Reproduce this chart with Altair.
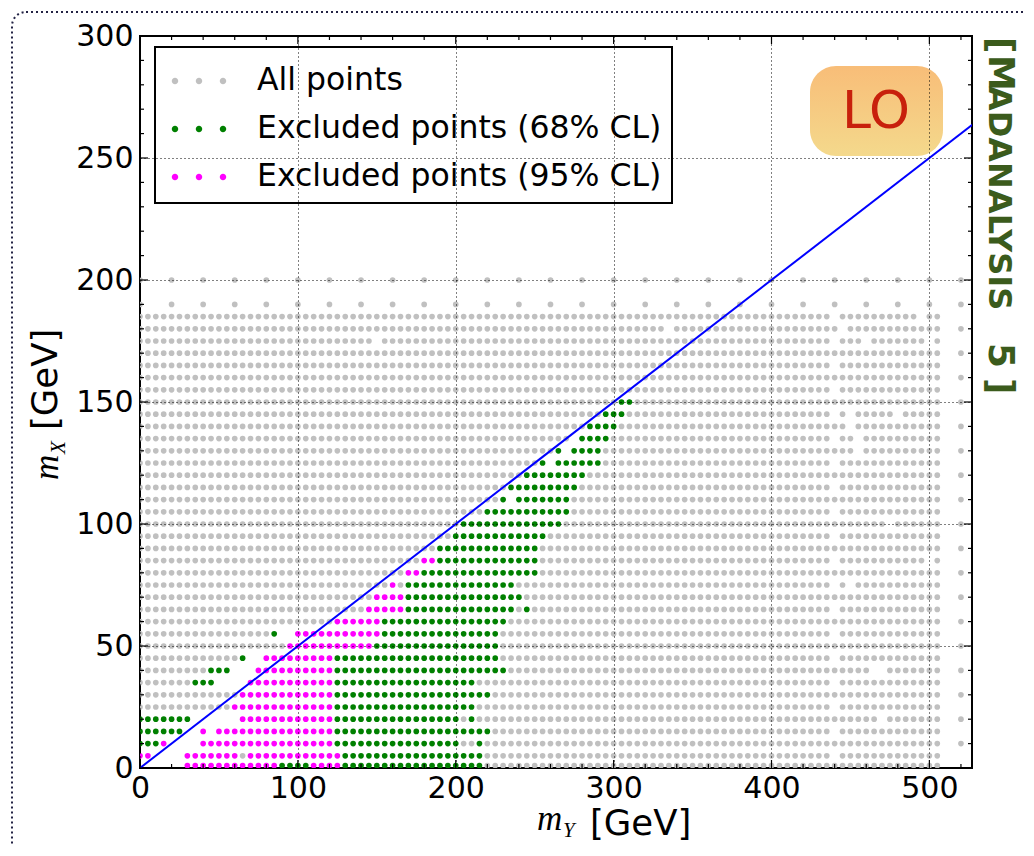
import altair as alt
import pandas as pd

# ---------------- data: parameter scan (GeV) ----------------
X_DENSE = list(range(0, 506, 5))          # m_Y values of the dense scan
Y_DENSE = [1] + list(range(5, 186, 5))    # m_X values of the dense scan
X_COARSE = list(range(0, 521, 20))        # coarse scan columns (top rows)
Y_COARSE = [190, 200]                     # coarse scan rows
X_EDGE = [520]                            # last coarse column
Y_EDGE = list(range(10, 181, 10))

# dense points that are absent from the scan (grey holes)
HOLES_440 = [5, 15, 25, 35, 45, 55, 65, 75, 85, 95, 105, 115, 125, 135, 145, 155, 165, 175, 185]
HOLES = [(150, 175), (335, 180), (445, 180), (495, 185), (460, 175), (500, 175),
         (450, 145), (480, 145), (450, 140), (455, 135), (455, 130), (475, 100),
         (500, 85), (450, 75), (465, 40), (470, 40), (470, 20)]

# excluded points, row by row: (m_X, m_Y from, m_Y to, class)
# g = excluded 68% CL, m = excluded 95% CL, n = no point
SEGMENTS = [
    (150, 305, 310, "g"),
    (145, 295, 305, "g"),
    (140, 285, 300, "g"),
    (135, 275, 275, "n"), (135, 280, 295, "g"),
    (130, 265, 265, "g"), (130, 270, 270, "n"), (130, 275, 290, "g"),
    (125, 255, 255, "g"), (125, 260, 260, "n"), (125, 265, 290, "g"),
    (120, 245, 280, "g"),
    (115, 235, 275, "g"),
    (110, 230, 230, "g"), (110, 235, 235, "n"), (110, 240, 270, "g"),
    (105, 220, 270, "g"),
    (100, 205, 265, "g"),
    (95, 200, 255, "g"),
    (90, 190, 250, "g"),
    (85, 180, 185, "m"), (85, 190, 250, "g"),
    (80, 170, 175, "m"), (80, 180, 250, "g"),
    (75, 160, 160, "m"), (75, 170, 235, "g"),
    (70, 150, 165, "m"), (70, 170, 240, "g"),
    (65, 145, 165, "m"), (65, 170, 235, "g"), (65, 245, 245, "g"),
    (60, 125, 150, "m"), (60, 155, 230, "g"),
    (55, 85, 85, "g"), (55, 90, 95, "n"), (55, 100, 150, "m"), (55, 155, 225, "g"),
    (50, 95, 145, "m"), (50, 150, 225, "g"),
    (45, 65, 65, "g"), (45, 70, 75, "n"), (45, 80, 120, "m"), (45, 125, 225, "g"),
    (40, 45, 55, "g"), (40, 60, 70, "n"), (40, 75, 120, "m"), (40, 125, 230, "g"),
    (35, 35, 45, "g"), (35, 50, 65, "n"), (35, 70, 120, "m"), (35, 125, 210, "g"),
    (30, 65, 120, "m"), (30, 125, 220, "g"),
    (25, 60, 120, "m"), (25, 125, 210, "g"),
    (20, 0, 30, "g"), (20, 35, 60, "n"), (20, 65, 120, "m"), (20, 125, 200, "g"), (20, 210, 210, "g"),
    (15, 0, 25, "g"), (15, 30, 35, "n"), (15, 40, 40, "m"), (15, 45, 45, "n"), (15, 50, 120, "m"), (15, 125, 220, "g"),
    (10, 0, 10, "g"), (10, 15, 15, "m"), (10, 20, 35, "n"), (10, 40, 120, "m"), (10, 125, 200, "g"), (10, 215, 215, "g"),
    (5, 0, 5, "m"), (5, 10, 25, "n"), (5, 30, 60, "m"), (5, 70, 125, "m"), (5, 130, 215, "g"),
    (1, 0, 25, "n"), (1, 30, 85, "m"), (1, 90, 105, "g"), (1, 110, 125, "m"), (1, 130, 215, "g"),
]

LINE_MY = [0, 540]      # m_X = m_Y / 2
LINE_MX = [0, 270]

X_MAJOR = [0, 100, 200, 300, 400, 500]
X_MINOR = [20, 40, 60, 80, 120, 140, 160, 180, 220, 240, 260, 280, 320, 340, 360, 380,
           420, 440, 460, 480, 520]
Y_MAJOR = [0, 50, 100, 150, 200, 250, 300]
Y_MINOR = [10, 20, 30, 40, 60, 70, 80, 90, 110, 120, 130, 140, 160, 170, 180, 190,
           210, 220, 230, 240, 260, 270, 280, 290]

LABELS = {"a": "All points", "g": "Excluded points (68% CL)", "m": "Excluded points (95% CL)"}
COLORS = ["#c0c0c0", "#008000", "#ff00ff"]

# ---------------- build table ----------------
holes = set(HOLES) | {(440, y) for y in HOLES_440}


def classify(x, y):
    for (yy, x0, x1, c) in SEGMENTS:
        if yy == y and x0 <= x <= x1:
            return c
    return "a"


rows = []
for y in Y_DENSE:
    for x in X_DENSE:
        if (x, y) in holes:
            continue
        c = classify(x, y)
        if c == "n":
            continue
        rows.append((x, y, c))
for y in Y_COARSE:
    for x in X_COARSE:
        rows.append((x, y, "a"))
for x in X_EDGE:
    for y in Y_EDGE:
        rows.append((x, y, "a"))
order = {"a": 0, "g": 1, "m": 2}
rows.sort(key=lambda r: order[r[2]])
pts = pd.DataFrame(rows, columns=["my", "mx", "c"])
pts["cat"] = pts["c"].map(LABELS)
pts["o"] = pts["c"].map(order)

line_df = pd.DataFrame({"my": LINE_MY, "mx": LINE_MX})
one = pd.DataFrame({"k": [0]})

# ---------------- layout ----------------
W, H = 832, 732
FONT = "DejaVu Sans"
SERIF = "Liberation Serif"
xs = alt.Scale(domain=[0, 527], nice=False, zero=False)
ys = alt.Scale(domain=[0, 300], nice=False, zero=False)

AX_X = alt.Axis(values=X_MAJOR, title=None, ticks=False, tickSize=0, domain=False,
                labelFont=FONT, labelFontSize=30, labelColor="black", labelPadding=5,
                labelFlush=False, labelOverlap=False, grid=True, gridColor="black",
                gridDash=[1, 3], gridWidth=1, gridOpacity=1, zindex=1)
AX_Y = alt.Axis(values=Y_MAJOR, title=None, ticks=False, tickSize=0, domain=False,
                labelFont=FONT, labelFontSize=30, labelColor="black", labelPadding=7,
                labelFlush=False, labelOverlap=False, grid=True, gridColor="black",
                gridDash=[1, 3], gridWidth=1, gridOpacity=1, zindex=1)
XE = alt.X("my:Q", scale=xs, axis=AX_X)
YE = alt.Y("mx:Q", scale=ys, axis=AX_Y)

# three-dot legend symbol (unit coordinates)
r = 0.135
DOTS = " ".join(
    f"M {cx - r} 0 A {r} {r} 0 1 0 {cx + r} 0 A {r} {r} 0 1 0 {cx - r} 0 Z" for cx in (-1, 0, 1)
)

points = alt.Chart(pts).mark_circle(size=32, opacity=1, clip=True).encode(
    x=XE, y=YE,
    color=alt.Color("cat:N", scale=alt.Scale(domain=list(LABELS.values()), range=COLORS),
                    legend=alt.Legend(orient="none", legendX=15, legendY=11, title=None,
                                      symbolType=DOTS, symbolSize=2304, symbolStrokeWidth=0,
                                      symbolOffset=10, labelOffset=34, padding=10, rowPadding=8,
                                      labelFont=FONT, labelFontSize=31.5, labelColor="black",
                                      labelLimit=800, strokeColor="black", fillColor="white")),
    order=alt.Order("o:Q"),
)

blue = alt.Chart(line_df).mark_line(color="#0000ff", strokeWidth=2, clip=True).encode(x=XE, y=YE)


def xticks(vals, length, top):
    d = pd.DataFrame({"my": vals})
    if top:
        return alt.Chart(d).mark_rule(color="black", strokeWidth=1.2).encode(
            x=XE, y=alt.value(0), y2=alt.value(length))
    return alt.Chart(d).mark_rule(color="black", strokeWidth=1.2).encode(
        x=XE, y=alt.value(H), y2=alt.value(H - length))


def yticks(vals, length, right):
    d = pd.DataFrame({"mx": vals})
    if right:
        return alt.Chart(d).mark_rule(color="black", strokeWidth=1.2).encode(
            y=YE, x=alt.value(W), x2=alt.value(W - length))
    return alt.Chart(d).mark_rule(color="black", strokeWidth=1.2).encode(
        y=YE, x=alt.value(0), x2=alt.value(length))


ticks = [xticks(X_MAJOR, 8, False), xticks(X_MAJOR, 8, True), xticks(X_MINOR, 4, False),
         xticks(X_MINOR, 4, True), yticks(Y_MAJOR, 8, False), yticks(Y_MAJOR, 8, True),
         yticks(Y_MINOR, 4, False), yticks(Y_MINOR, 4, True)]

border = alt.Chart(one).mark_rect(filled=False, fillOpacity=0, stroke="#222244", strokeWidth=2,
                                  strokeDash=[2, 3], cornerRadius=14, clip=False).encode(
    x=alt.value(-128), x2=alt.value(920), y=alt.value(-24), y2=alt.value(830))

badge = alt.Chart(one).mark_rect(
    cornerRadius=26,
    fill=alt.Gradient(gradient="linear", x1=0, x2=0, y1=0, y2=1,
                      stops=[alt.GradientStop(color="#f8bd78", offset=0),
                             alt.GradientStop(color="#f4d98c", offset=1)]),
).encode(x=alt.value(670), x2=alt.value(803), y=alt.value(30), y2=alt.value(120))

lo = alt.Chart(one).mark_text(text="LO", font=FONT, fontSize=52, color="#c8200c",
                              align="center", baseline="middle").encode(
    x=alt.value(736), y=alt.value(76))

GREEN_T = "#3b5b1c"


def mad(txt, y, size):
    return alt.Chart(one).mark_text(text=txt, font=FONT, fontWeight="bold", fontSize=size,
                                    color=GREEN_T, angle=90, align="left",
                                    baseline="alphabetic").encode(x=alt.value(849), y=alt.value(y))


mad_txt = [mad("[", 1, 36), mad("M", 19, 36), mad("ADANALYSIS", 50, 32), mad("5", 307, 36),
           mad("]", 342, 36)]


def txt(t, x, y, size, style="normal", family=FONT, angle=0):
    return alt.Chart(one).mark_text(text=t, font=family, fontSize=size, fontStyle=style,
                                    color="black", align="left", baseline="alphabetic",
                                    angle=angle).encode(x=alt.value(x), y=alt.value(y))


titles = [
    txt("m", 397, 794, 35, "italic", SERIF),
    txt("Y", 423, 801, 21, "italic", SERIF),
    txt("[GeV]", 450, 799, 35.5),
    txt("m", -82, 444, 35, "italic", SERIF, 270),
    txt("X", -75, 418, 21, "italic", SERIF, 270),
    txt("[GeV]", -83, 394, 35.5, "normal", FONT, 270),
]

chart = alt.layer(border, points, blue, *ticks, badge, lo, *mad_txt, *titles).properties(
    width=W, height=H,
    autosize=alt.AutoSizeParams(type="none"),
    padding={"left": 132, "top": 28, "right": 54, "bottom": 76},
).configure_view(stroke="black", strokeWidth=2).configure_legend(strokeWidth=2)

chart.save("out.html", embed_options={"renderer": "svg", "actions": False})
